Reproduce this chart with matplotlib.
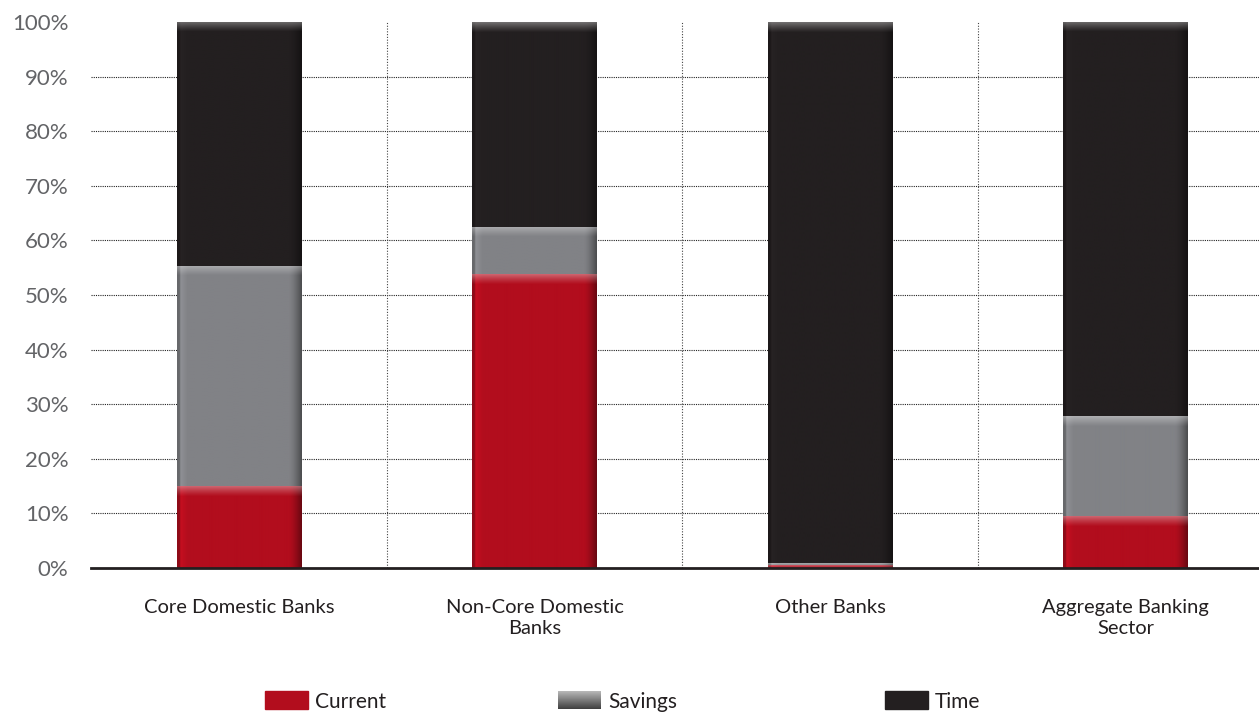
import numpy as np
import matplotlib.pyplot as plt
from matplotlib.colors import to_rgb
from matplotlib.patches import Rectangle

categories = ['Core Domestic Banks', 'Non-Core Domestic\nBanks', 'Other Banks',
              'Aggregate Banking\nSector']
current = [15.0, 53.8, 0.6, 9.5]
savings = [40.3, 8.7, 0.4, 18.3]
time_dep = [44.7, 37.5, 99.0, 72.2]
series_names = ['Current', 'Savings', 'Time']
colors = ['#B20D1D', '#818286', '#231F20']
yticks = np.arange(0, 101, 10)

plt.rcParams['font.family'] = ['Lato', 'DejaVu Sans']
text_col = '#636467'

fig = plt.figure(figsize=(12.59, 7.13), dpi=100)
ax = fig.add_axes([91.25 / 1259, 0.2034, 1182 / 1259, 0.7657])
px_per_unit = 0.7657 * 713 / 100.0


def shaded(color, h_px, w=80):
    # bevel look: darker edges left/right, bright band on top
    base = np.array(to_rgb(color))
    h = max(int(round(h_px)), 2)
    xs = np.linspace(0, 1, w)
    fx = np.ones(w)
    fx[xs < 0.02] = 0.8
    edge = (xs >= 0.02) & (xs < 0.08)
    fx[edge] = 1.0 + 0.12 * (0.08 - xs[edge]) / 0.06
    right = xs > 0.9
    fx[right] = 1.0 - 0.4 * ((xs[right] - 0.9) / 0.1) ** 1.5
    img = np.clip(base[None, None, :] * fx[None, :, None], 0, 1)
    img = np.repeat(img, h, axis=0)
    band = min(10, h)
    for r in range(band):
        a = 0.35 * (1 - r / band) ** 1.2
        img[r] = img[r] * (1 - a) + a
    return img


x = np.arange(len(categories))
width = 0.42
stack = np.vstack([current, savings, time_dep])
bottoms = np.zeros(len(categories))
for vals, col in zip(stack, colors):
    for i, v in enumerate(vals):
        x0, x1 = x[i] - width / 2, x[i] + width / 2
        y0, y1 = bottoms[i], bottoms[i] + v
        ax.imshow(shaded(col, v * px_per_unit), extent=(x0, x1, y0, y1),
                  aspect='auto', origin='upper', interpolation='bilinear',
                  zorder=3)
    bottoms += vals

ax.set_xlim(-0.5, len(categories) - 0.5)
ax.set_ylim(0, 100)

for yv in yticks[1:-1]:
    ax.axhline(yv, color='#222222', lw=0.8, ls=(0, (1, 1)), zorder=1)
for xv in x[:-1] + 0.5:
    ax.axvline(xv, color='#444444', lw=0.8, ls=(0, (1, 1.5)), zorder=1)
ax.axhline(0, color='#231F20', lw=2.0, zorder=4, clip_on=False)

for s in ax.spines.values():
    s.set_visible(False)
ax.set_yticks(yticks)
ax.set_yticklabels([f'{v}%' for v in yticks], fontsize=16, color=text_col)
ax.tick_params(axis='y', length=0, pad=16.5)
ax.set_xticks(x)
ax.set_xticklabels(categories, fontsize=14.5, color='#231F20', linespacing=1.35)
ax.tick_params(axis='x', length=0, pad=22)

# legend along the bottom edge
leg_x = [265, 558, 885]
for name, col, lx in zip(series_names, colors, leg_x):
    if name == 'Savings':
        lax = fig.add_axes([lx / 1259, 4 / 713, 43 / 1259, 18 / 713])
        g = np.linspace(0.72, 0.25, 30)[:, None, None] * np.ones((1, 20, 3))
        lax.imshow(g, aspect='auto', interpolation='bilinear')
        lax.axis('off')
    else:
        fig.add_artist(Rectangle((lx / 1259, 4 / 713), 43 / 1259, 18 / 713,
                                 transform=fig.transFigure, color=col))
    fig.text((lx + 50) / 1259, 1 / 713, name, fontsize=15, color='#231F20',
             va='bottom', ha='left')

fig.savefig('out.png', dpi=100)
